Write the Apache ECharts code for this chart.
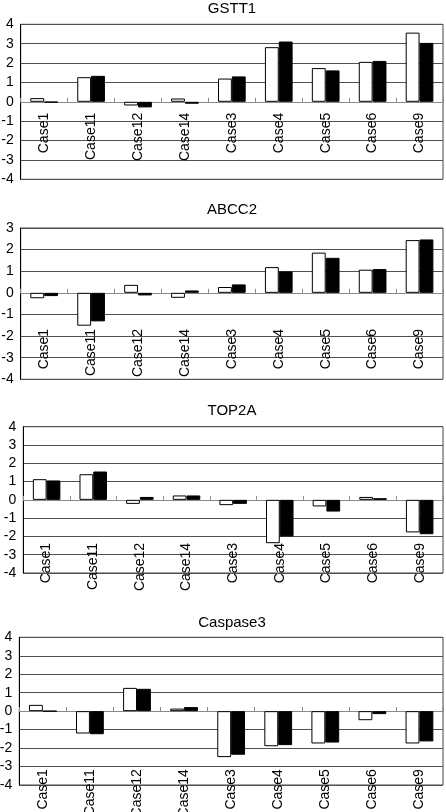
<!DOCTYPE html>
<html><head><meta charset="utf-8">
<script src="https://cdn.jsdelivr.net/npm/echarts@6/dist/echarts.min.js"></script>
<style>html,body{margin:0;padding:0;background:#fff}#c{width:446px;height:812px}</style>
</head><body><div id="c"></div>
<script>
// ---- data ----
const categories = ['Case1','Case11','Case12','Case14','Case3','Case4','Case5','Case6','Case9'];
const panelTitles = ['GSTT1','ABCC2','TOP2A','Caspase3'];
const gstt1White = [0.19, 1.27, -0.19, 0.17, 1.20, 2.82, 1.74, 2.06, 3.57];
const gstt1Black = [-0.03, 1.34, -0.29, -0.10, 1.31, 3.11, 1.62, 2.11, 3.04];
const abcc2White = [-0.25, -1.52, 0.37, -0.23, 0.27, 1.19, 1.86, 1.07, 2.44];
const abcc2Black = [-0.15, -1.32, -0.12, 0.11, 0.39, 0.99, 1.62, 1.10, 2.47];
const top2aWhite = [1.13, 1.40, -0.22, 0.24, -0.29, -2.37, -0.36, 0.16, -1.78];
const top2aBlack = [1.06, 1.55, 0.16, 0.24, -0.22, -2.00, -0.64, 0.09, -1.88];
const casp3White = [0.34, -1.21, 1.26, 0.14, -2.49, -1.90, -1.75, -0.49, -1.75];
const casp3Black = [0, -1.25, 1.21, 0.22, -2.36, -1.84, -1.70, -0.16, -1.64];
const yMaxes = [4, 3, 4, 4];
const yMins = [-4, -4, -4, -4];

const whiteSeries = [gstt1White, abcc2White, top2aWhite, casp3White];
const blackSeries = [gstt1Black, abcc2Black, top2aBlack, casp3Black];

// ---- layout ----
const FONT = 'Liberation Sans, Arial, sans-serif';
const grids = [
  {top: 24.3, height: 155, left: 20.7, right: 3},
  {top: 228, height: 151.3, left: 20.7, right: 3},
  {top: 426.7, height: 146.3, left: 23.3, right: 3},
  {top: 637.3, height: 147.7, left: 19.3, right: 3}
];
const titleY = [8.5, 210, 411, 623];
const labelMargins = [11, 36, 43, 58];

const option = {
  animation: false,
  backgroundColor: '#fff',
  grid: grids.map(g => Object.assign({
    show: true, borderColor: '#444', borderWidth: 1,
    containLabel: false, outerBoundsMode: 'none'
  }, g)),
  graphic: panelTitles.map((t, i) => ({
    type: 'text', x: 232, y: titleY[i],
    style: {text: t, align: 'center', verticalAlign: 'middle',
      fontSize: 15, fontFamily: FONT, fill: '#000'}
  })),
  xAxis: grids.map((g, i) => ({
    type: 'category', gridIndex: i, data: categories, position: 'bottom',
    // move the whole category axis (line, ticks, labels) up to the zero line
    offset: -g.height * (0 - yMins[i]) / (yMaxes[i] - yMins[i]),
    axisLine: {onZero: false, lineStyle: {color: '#888', width: 1}},
    axisTick: {show: true, inside: true, length: 4, lineStyle: {color: '#888'}},
    axisLabel: {rotate: 90, interval: 0, margin: labelMargins[i],
      fontSize: 14, fontFamily: FONT, color: '#000'},
    splitLine: {show: false}
  })),
  yAxis: grids.map((g, i) => ({
    type: 'value', gridIndex: i, min: yMins[i], max: yMaxes[i], interval: 1,
    axisLine: {show: true, onZero: false, lineStyle: {color: '#000'}},
    axisTick: {show: false},
    axisLabel: {margin: 7, fontSize: 14, fontFamily: FONT, color: '#000'},
    splitLine: {show: true, lineStyle: {color: '#505050', width: 1}}
  })),
  series: []
};
for (let i = 0; i < 4; i++) {
  option.series.push({
    type: 'bar', name: panelTitles[i] + ' A', xAxisIndex: i, yAxisIndex: i,
    data: whiteSeries[i], barGap: '0%', barCategoryGap: '41%',
    itemStyle: {color: '#fff', borderColor: '#000', borderWidth: 1}
  });
  option.series.push({
    type: 'bar', name: panelTitles[i] + ' B', xAxisIndex: i, yAxisIndex: i,
    data: blackSeries[i], barGap: '0%', barCategoryGap: '41%',
    itemStyle: {color: '#000', borderColor: '#000', borderWidth: 1}
  });
}
const chart = echarts.init(document.getElementById('c'), null, {renderer: 'canvas'});
chart.setOption(option);
</script>
</body></html>
